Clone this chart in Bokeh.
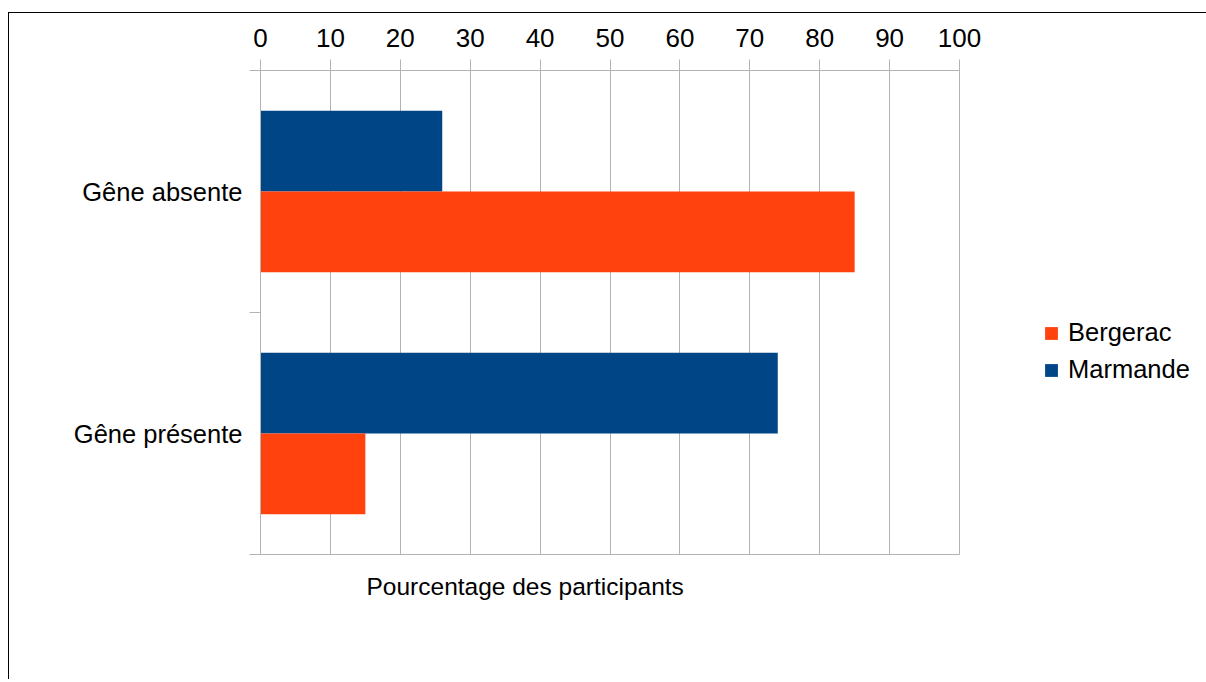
from bokeh.plotting import figure
from bokeh.models import (ColumnDataSource, Range1d, FixedTicker, Legend, LegendItem, Title)
from bokeh.transform import dodge
from bokeh.embed import file_html
from bokeh.resources import INLINE

# ---- data ----
categories = ["Gêne absente", "Gêne présente"]
bergerac = [85, 15]
marmande = [26, 74]
x_ticks = [0, 10, 20, 30, 40, 50, 60, 70, 80, 90, 100]
series_names = ["Bergerac", "Marmande"]
series_colors = ["#ff420e", "#004586"]

n = len(categories)
ypos = [n - i - 0.5 for i in range(n)]
src = ColumnDataSource(dict(cat=categories, y=ypos, bergerac=bergerac, marmande=marmande))

FONT = "Liberation Sans"
GRID = "#b3b3b3"

p = figure(frame_width=699, frame_height=484,
           min_border_left=251, min_border_top=57, min_border_right=245, min_border_bottom=125,
           x_range=Range1d(0, 100), y_range=Range1d(0, n),
           x_axis_location="above", output_backend="svg", toolbar_location=None)
p.styles = {"margin-top": "12px", "margin-left": "8px",
            "border-left": "1px solid black", "border-top": "1px solid black"}

bar_h = 1.0 / 3.0
r_m = p.hbar(y=dodge("y", bar_h / 2, range=p.y_range), left=0, right="marmande", height=bar_h,
             source=src, fill_color=series_colors[1], line_color=None)
r_b = p.hbar(y=dodge("y", -bar_h / 2, range=p.y_range), left=0, right="bergerac", height=bar_h,
             source=src, fill_color=series_colors[0], line_color=None)

# top axis
xa = p.xaxis[0]
xa.ticker = FixedTicker(ticks=x_ticks, minor_ticks=[])
xa.major_tick_out = 11
xa.major_tick_in = 0
xa.major_tick_line_color = GRID
xa.axis_line_color = GRID
xa.major_label_text_font = FONT
xa.major_label_text_font_size = "26px"
xa.major_label_text_color = "black"
xa.major_label_standoff = 13

# left axis with boundary ticks
ya = p.yaxis[0]
ya.ticker = FixedTicker(ticks=ypos, minor_ticks=list(range(n + 1)))
ya.major_label_overrides = {y: c for y, c in zip(ypos, categories)}
ya.major_tick_out = 0
ya.major_tick_in = 0
ya.minor_tick_out = 11
ya.minor_tick_in = 0
ya.minor_tick_line_color = GRID
ya.axis_line_color = GRID
ya.major_label_text_font = FONT
ya.major_label_text_font_size = "25.5px"
ya.major_label_text_color = "black"
ya.major_label_standoff = 7

p.xgrid.grid_line_color = GRID
p.xgrid.ticker = FixedTicker(ticks=x_ticks)
p.ygrid.grid_line_color = None
p.outline_line_color = GRID
p.background_fill_color = "white"
p.border_fill_color = "white"

t = Title(text="Pourcentage des participants", align="left", offset=106,
          text_font=FONT, text_font_size="24.5px", text_font_style="normal",
          text_color="black", standoff=32)
p.add_layout(t, "below")

legend = Legend(items=[LegendItem(label=series_names[0], renderers=[r_b]),
                       LegendItem(label=series_names[1], renderers=[r_m])],
                location=(84, 170), orientation="vertical",
                glyph_width=16, glyph_height=16, label_standoff=9, spacing=8,
                padding=0, margin=0, border_line_color=None, background_fill_alpha=0,
                label_text_font=FONT, label_text_font_size="25.5px", label_text_color="black")
p.add_layout(legend, "right")

open("out.html", "w").write(file_html(p, INLINE))
